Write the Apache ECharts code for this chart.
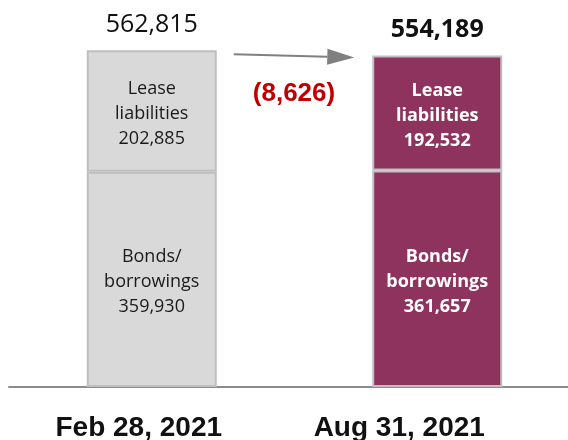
<!DOCTYPE html>
<html>
<head>
<meta charset="utf-8">
<script src="https://cdn.jsdelivr.net/npm/echarts@6/dist/echarts.min.js"></script>
<style>
  html, body { margin: 0; padding: 0; background: #fff; }
  #chart { width: 568px; height: 440px; }
</style>
</head>
<body>
<div id="chart"></div>
<script>
// Debt composition at two reporting dates
const periods = ['Feb 28, 2021', 'Aug 31, 2021'];
const bonds = [359930, 361657];
const lease = [202885, 192532];
const totals = [562815, 554189];

const fmt = v => v.toLocaleString('en-US');
const change = totals[1] - totals[0];
const changeText = change < 0 ? '(' + fmt(-change) + ')' : fmt(change);

const grey = '#d9d9d9';
const maroon = '#8e335e';
const edge = '#bfbfbf';
const bodyFont = '"Open Sans", Lato, sans-serif';

function segLabel(title, i) {
  return {
    show: true,
    position: 'inside',
    offset: [0, 3],
    fontFamily: bodyFont,
    fontSize: 18,
    lineHeight: 25,
    color: i === 0 ? '#1a1a1a' : '#ffffff',
    fontWeight: i === 0 ? 'normal' : 'bold',
    formatter: p => title + '\n' + fmt(p.value)
  };
}

function segData(values, title) {
  return values.map((v, i) => ({
    value: v,
    itemStyle: { color: i === 0 ? grey : maroon, borderColor: edge, borderWidth: 2 },
    label: segLabel(title, i)
  }));
}

const chart = echarts.init(document.getElementById('chart'), null, { renderer: 'canvas' });

chart.setOption({
  animation: false,
  grid: { left: 9, width: 571, top: 28, bottom: 53, outerBoundsMode: 'none' },
  xAxis: {
    type: 'category',
    data: periods.map((p, i) => ({
      value: p,
      textStyle: { padding: i === 0 ? [0, 26, 0, 0] : [0, 76, 0, 0] }
    })),
    axisTick: { show: false },
    axisLine: { lineStyle: { color: '#8c8c8c', width: 2 } },
    axisLabel: {
      fontFamily: '"Liberation Sans", Arial, sans-serif',
      fontWeight: 'bold',
      fontSize: 28,
      color: '#111',
      margin: 27
    }
  },
  yAxis: {
    type: 'value',
    min: 0,
    max: 600000,
    show: false,
    splitLine: { show: false }
  },
  series: [
    {
      name: 'Bonds/borrowings',
      type: 'bar',
      stack: 'debt',
      barWidth: 130,
      data: segData(bonds, 'Bonds/\nborrowings')
    },
    {
      name: 'Lease liabilities',
      type: 'bar',
      stack: 'debt',
      barWidth: 130,
      data: segData(lease, 'Lease\nliabilities')
    },
    {
      // zero-height cap on each stack carrying the total
      name: 'Total',
      type: 'bar',
      stack: 'debt',
      barWidth: 130,
      itemStyle: { color: 'rgba(0,0,0,0)', borderWidth: 0 },
      data: totals.map((t, i) => ({
        value: 0,
        label: {
          show: true,
          position: 'top',
          distance: 13,
          fontFamily: bodyFont,
          fontSize: 25,
          fontWeight: i === 0 ? 'normal' : 'bold',
          color: '#111111',
          formatter: () => fmt(t)
        }
      }))
    }
  ]
});

// Arrow linking the two totals, with the change between them
const p0 = chart.convertToPixel({ seriesIndex: 0 }, [0, totals[0]]);
const p1 = chart.convertToPixel({ seriesIndex: 0 }, [1, totals[1]]);
const x0 = p0[0] + 65 + 17;
const y0 = p0[1] + 4;
const xTip = p1[0] - 65 - 18;
const yTip = p1[1] + 2;
const headLen = 27, headHalf = 8;
const ang = Math.atan2(yTip - y0, xTip - x0);
const bx = xTip - headLen * Math.cos(ang), by = yTip - headLen * Math.sin(ang);
const nx = -Math.sin(ang) * headHalf, ny = Math.cos(ang) * headHalf;

chart.setOption({
  graphic: [
    {
      type: 'line',
      shape: { x1: x0, y1: y0, x2: bx, y2: by },
      style: { stroke: '#808080', lineWidth: 2 }
    },
    {
      type: 'polygon',
      shape: { points: [[xTip, yTip], [bx + nx, by + ny], [bx - nx, by - ny]] },
      style: { fill: '#808080' }
    },
    {
      type: 'text',
      x: (x0 + xTip) / 2,
      y: 94,
      style: {
        text: changeText,
        fill: '#c00000',
        font: 'bold 26px "Liberation Sans", Arial, sans-serif',
        align: 'center',
        verticalAlign: 'middle'
      }
    }
  ]
});
</script>
</body>
</html>
